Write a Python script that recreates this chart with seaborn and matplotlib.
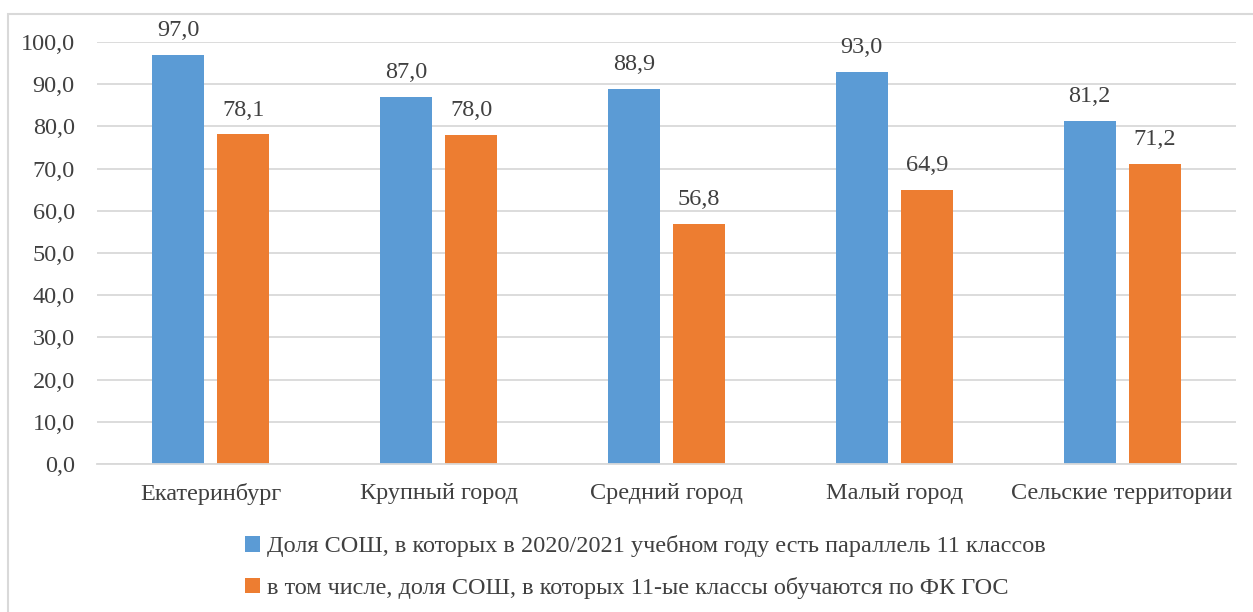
import matplotlib
matplotlib.use("Agg")
import matplotlib.pyplot as plt
import seaborn as sns
import pandas as pd
from matplotlib.patches import Rectangle, Patch

categories = ["Екатеринбург", "Крупный город", "Средний город", "Малый город", "Сельские территории"]
series_names = [
    "Доля СОШ, в которых в 2020/2021 учебном году есть параллель 11 классов",
    "в том числе, доля СОШ, в которых 11-ые классы обучаются по ФК ГОС",
]
share_11 = [97.0, 87.0, 88.9, 93.0, 81.2]
share_fkgos = [78.1, 78.0, 56.8, 64.9, 71.2]
yticks = [0, 10, 20, 30, 40, 50, 60, 70, 80, 90, 100]
colors = ["#5B9BD5", "#ED7D31"]

df = pd.DataFrame({
    "cat": categories * 2,
    "series": [series_names[0]] * 5 + [series_names[1]] * 5,
    "value": share_11 + share_fkgos,
})

sns.set_theme(style="white")
plt.rcParams["font.family"] = ["Liberation Serif", "DejaVu Serif"]
text_color = "#404040"
fs = 17.5

fig = plt.figure(figsize=(12.53, 6.12), dpi=100)
ax = fig.add_axes([0.0774, 0.2418, 0.909, 0.6896])

sns.barplot(data=df, x="cat", y="value", hue="series", order=categories,
            hue_order=series_names, palette=colors, width=0.571, gap=0.2,
            saturation=1, ax=ax, legend=False, errorbar=None, linewidth=0)

for cont in ax.containers:
    ax.bar_label(cont, labels=[f"{v:.1f}".replace(".", ",") for v in cont.datavalues],
                 padding=10, fontsize=fs, color=text_color)

ax.set_ylim(0, 100)
ax.set_yticks(yticks)
ax.set_yticklabels([f"{v:.1f}".replace(".", ",") for v in yticks], fontsize=fs, color=text_color)
ax.set_xticklabels(categories, fontsize=fs, color=text_color)
ax.tick_params(axis="y", length=0, pad=16)
ax.tick_params(axis="x", length=0, pad=14)
ax.set_xlabel("")
ax.set_ylabel("")
ax.grid(axis="y", color="#D9D9D9", linewidth=1.3)
ax.set_axisbelow(True)
for s in ["top", "right", "left"]:
    ax.spines[s].set_visible(False)
ax.spines["bottom"].set_color("#D9D9D9")
ax.spines["bottom"].set_linewidth(1.3)

handles = [Patch(facecolor=c, edgecolor="none") for c in colors]
fig.legend(handles, series_names, loc="upper left", bbox_to_anchor=(0.186, 0.145),
           frameon=False, ncol=1, fontsize=fs, handlelength=0.6, handleheight=0.6,
           handletextpad=0.3, labelspacing=0.8, labelcolor=text_color, borderpad=0)

fig.patches.append(Rectangle((8 / 1253, -0.05), 1.1, 0.05 + 1 - 14 / 612,
                             transform=fig.transFigure, fill=False,
                             edgecolor="#D9D9D9", linewidth=1.5))

fig.savefig("out.png", dpi=100)
